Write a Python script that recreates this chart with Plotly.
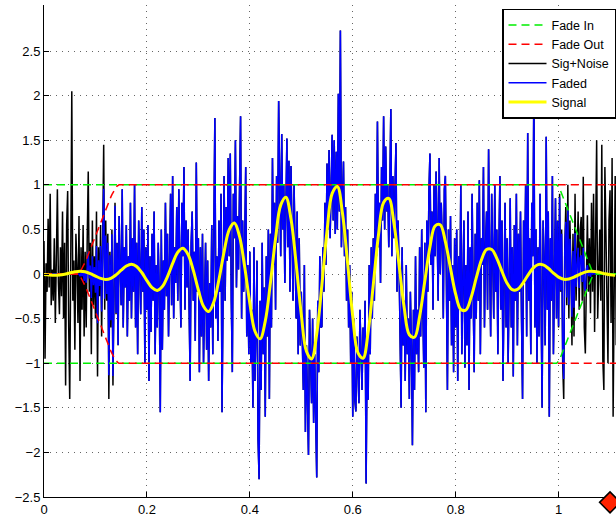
import numpy as np
import plotly.graph_objects as go

# ---- data -------------------------------------------------------------
dt = 0.002  # sample spacing of the noisy record (s)

# noisy record: chirp-like burst plus noise, one value per sample
sig_noise = [
    0.37, -0.95, 0.12, -0.2, 0.62, -0.15, 0.9, -0.35, 0.05, -0.3,
    0.4, -0.55, 0.18, 0.95, -0.1, -0.45, 0.3, -0.25, 0.7, -0.5,
    0.35, -1.25, 0.55, 0.93, -0.6, -1.4, 0.2, 2.05, -0.3, 0.15,
    -0.85, 0.45, 0.1, -0.55, 0.65, -1.2, 0.3, -0.4, 0.55, -0.7,
    0.25, -0.6, 0.4, 1.15, -0.2, 0.35, -0.9, 0.6, -0.35, 0.2,
    -0.5, 0.7, -1.15, 0.3, -0.25, 0.55, -0.7, 0.2, 1.45, -0.4,
    0.6, -0.3, 0.45, -1.4, 0.25, -0.6, 0.5, -1.25, 0.15, 0.8,
    -0.45, 0.35, -0.8, 0.65, 0.1, -0.35, 0.95, -0.6, 0.3, -0.15,
    0.55, -0.7, 0.2, -0.3, 0.8, -0.5, 0.4, -0.2, 1.0, -0.6,
    0.35, -0.9, 0.6, 0.1, -0.45, 0.75, -0.2, 0.5, -1.0, 0.3,
    -0.4, 0.55, -1.2, 0.2, -0.65, 0.45, -0.3, 0.7, -0.9, 0.1,
    -0.6, 0.35, -0.2, -1.55, 0.5, -0.85, 0.15, -0.4, 0.8, -0.25,
    0.45, -0.7, 0.25, 0.9, -0.35, 1.1, -0.5, 0.3, -0.1, 0.75,
    -0.3, 0.95, 0.1, -0.6, 0.8, 0.2, 1.2, -0.4, 0.6, -0.15,
    0.5, -0.45, -1.2, 0.35, 0.7, -0.3, 0.25, -0.75, 1.25, -0.2,
    0.4, -1.1, 0.3, -0.7, 0.45, -1.0, -0.2, 0.35, -0.85, 0.15,
    -1.2, -0.1, -0.6, 0.55, -0.9, 0.3, 1.75, -0.5, 0.2, -0.75,
    0.6, -0.2, 0.9, -1.55, 0.4, 1.1, -0.3, 0.75, 0.15, 1.3,
    0.2, 1.35, -0.3, -1.1, 0.9, 0.4, 1.5, -0.15, 0.65, 0.05,
    0.95, 1.77, -0.5, 0.6, -0.2, 0.3, 1.2, -0.7, 0.1, -0.9,
    0.25, -1.0, -0.4, -1.5, 0.3, -1.2, -0.6, 0.15, -1.85, -2.3,
    -0.3, -1.3, 0.35, -0.9, -0.15, -1.6, 0.2, -0.7, 0.5, -1.4,
    0.45, -0.6, 1.3, 0.1, 0.8, -0.4, 1.1, 0.35, 1.94, 0.6,
    0.2, 1.57, 0.5, 1.0, -0.1, 0.7, 1.52, 0.3, 1.27, -0.2,
    1.21, 0.45, -0.3, 1.0, 0.2, -0.5, 0.7, -0.9, 0.4, -0.8,
    -0.2, -0.66, -1.3, 0.1, -1.77, -0.8, -1.5, -2.03, -0.4, -1.2,
    -1.45, -0.5, -1.67, -0.9, -1.52, -2.28, -0.3, -1.1, 0.2, -0.6,
    -0.59, 0.3, -0.2, 0.8, 0.1, 1.24, 0.5, 1.39, 0.4, 0.95,
    1.56, 0.6, 1.5, 0.45, 1.37, 0.5, 2.02, 0.7, 2.73, 0.3,
    0.9, 1.26, 0.2, 0.75, -0.3, 0.5, -0.6, 0.1, -1.0, -0.2,
    -1.6, -0.5, -1.41, -1.54, -0.7, -1.2, -1.45, -0.4, -1.1, -1.3,
    -0.6, -1.0, -0.3, -2.35, -0.8, -1.41, 0.1, -0.9, 0.3, -0.5,
    0.4, -0.3, 0.9, 0.2, 1.71, 0.3, 0.8, -0.1, 1.2, 0.6,
    1.77, 0.5, 1.43, 0.7, 1.0, 0.3, 0.9, 1.85, 0.2, 1.1,
    0.4, 0.9, 1.47, -0.2, 0.6, 0.1, -0.6, -1.5, 0.3, -0.8,
    -0.3, -1.2, 0.1, -0.9, -0.5, -1.4, -0.2, -0.8, -1.92, -0.4,
    -1.3, 0.2, -0.9, -0.4, -1.1, 0.3, -0.7, 0.5, -0.3, -1.05,
    0.35, -1.55, 0.6, -0.2, 0.9, 1.35, 0.1, 0.7, -0.4, 1.0,
    0.2, 1.15, 0.5, -0.3, 1.3, 0.0, 0.8, 0.35, -0.5, 0.95,
    1.1, 0.2, -1.3, 0.5, -0.3, 0.65, -0.8, 0.1, -1.1, 0.4,
    -0.6, 0.5, -1.2, 0.2, -0.4, 1.0, -0.9, -0.1, 0.6, -1.05,
    0.1, -0.8, 0.7, -1.3, 0.3, -0.5, 0.9, -0.2, -1.1, 0.45,
    -0.5, 0.8, -0.3, 1.05, -0.9, 0.4, 0.1, 1.2, -0.6, 0.3,
    0.7, -0.4, 1.4, 0.2, -0.7, 0.9, 0.35, -0.5, 1.0, -0.2,
    0.5, -0.9, 0.3, 1.1, -0.4, 0.6, -1.2, 0.15, 0.8, -0.6,
    0.4, -1.0, 0.2, 0.85, -0.6, 0.3, -1.15, 0.55, -0.3, 0.9,
    -0.8, 0.45, -0.2, 0.7, -0.5, -1.4, 0.6, -0.1, 1.0, -0.7,
    1.58, -0.3, 0.4, -0.9, 0.8, 0.2, 2.1, -0.6, 0.5, -1.0,
    0.3, -0.7, 0.9, -0.2, -1.5, 0.6, 0.1, -0.8, 1.54, -0.4,
    0.7, -1.6, 0.4, -0.3, 1.1, -0.9, 0.2, 0.85, -0.5, 0.6,
    -0.6, 0.9, -0.2, 0.5, -1.0, -1.4, 0.3, 0.75, -0.35, 1.0,
    -0.5, 0.6, 0.1, -0.8, 0.45, -0.7, 0.9, -0.3, 0.2, 0.7,
    -0.4, 0.5, 0.64, -0.3, 1.09, -0.6, -0.89, 0.3, 0.66, -0.2,
    0.4, -0.44, 0.8, -0.2, 0.9, -0.65, 0.3, 1.5, -0.5, 0.2,
    0.5, -0.3, 1.45, -0.96, -1.3, 1.2, 0.4, -0.2, -1.0, 0.6,
    0.94, -0.55, 1.3, -1.6, 0.4, 1.1, -0.8, 0.2,
]

# clean burst, sampled every 10 ms
signal_dt = 0.01
signal = [
    -0.006, -0.012, -0.015, -0.012, -0.003, 0.012, 0.025, 0.032, 0.025, 0.005,
    -0.023, -0.049, -0.061, -0.048, -0.010, 0.043, 0.090, 0.110, 0.085, 0.017,
    -0.074, -0.153, -0.184, -0.141, -0.028, 0.119, 0.244, 0.288, 0.218, 0.043,
    -0.179, -0.361, -0.420, -0.313, -0.061, 0.250, 0.498, 0.572, 0.421, 0.081,
    -0.327, -0.642, -0.727, -0.528, -0.100, 0.398, 0.772, 0.861, 0.617, 0.115,
    -0.453, -0.865, -0.952, -0.672, -0.124, 0.480, 0.904, 0.982, 0.683, 0.124,
    -0.475, -0.882, -0.944, -0.648, -0.116, 0.438, 0.802, 0.847, 0.573, 0.101,
    -0.377, -0.681, -0.709, -0.473, -0.082, 0.302, 0.539, 0.553, 0.364, 0.063,
    -0.226, -0.398, -0.403, -0.262, -0.044, 0.158, 0.274, 0.274, 0.175, 0.029,
    -0.103, -0.176, -0.173, -0.109, -0.018, 0.063, 0.105, 0.102, 0.064, 0.010,
    -0.035, -0.059, -0.056, -0.035, -0.006, 0.019, 0.031, 0.029, 0.018, 0.003,
    -0.009, -0.015,
]

# fade windows: start time and the ramp values that follow it
fade_out_start = 0.068
fade_out_ramp = [
    0.0, 0.02, 0.04, 0.06, 0.085, 0.11, 0.135, 0.16, 0.19, 0.215,
    0.245, 0.27, 0.3, 0.33, 0.36, 0.39, 0.42, 0.45, 0.48, 0.51,
    0.54, 0.57, 0.6, 0.63, 0.66, 0.69, 0.72, 0.75, 0.78, 0.81,
    0.84, 0.865, 0.89, 0.915, 0.935, 0.955, 0.97, 0.985, 0.995, 1.0,
]
fade_in_start = 0.996
fade_in_ramp = [
    1.0, 0.99, 0.975, 0.955, 0.93, 0.9, 0.87, 0.84, 0.81, 0.78,
    0.75, 0.72, 0.69, 0.66, 0.63, 0.6, 0.57, 0.54, 0.51, 0.48,
    0.45, 0.42, 0.39, 0.36, 0.33, 0.3, 0.27, 0.24, 0.21, 0.18,
    0.15, 0.12, 0.095, 0.07, 0.05, 0.03, 0.015, 0.0,
]

# diamond marker sitting on the lower edge
marker_t = 1.1
marker_v = -2.56

x_ticks = [0, 0.2, 0.4, 0.6, 0.8, 1.0]
y_ticks = [-2.5, -2, -1.5, -1, -0.5, 0, 0.5, 1, 1.5, 2, 2.5]

x_range = [0, 1.1116]
y_range = [-2.5, 3.016]

# ---- derived series ---------------------------------------------------
sn = np.array(sig_noise)
n = len(sn)
t = np.arange(n) * dt
ts = np.arange(len(signal)) * signal_dt

i_out = int(round(fade_out_start / dt))
fade_out = np.concatenate([np.zeros(i_out), fade_out_ramp,
                           np.ones(n - i_out - len(fade_out_ramp))])
i_in = int(round(fade_in_start / dt))
fade_in = np.concatenate([np.ones(i_in), fade_in_ramp,
                          np.zeros(n - i_in - len(fade_in_ramp))])
faded = sn * fade_in * fade_out


def envelope(w):
    xs = list(t) + [None] + list(t)
    ys = list(w) + [None] + list(-w)
    return xs, ys


# ---- figure -----------------------------------------------------------
fig = go.Figure()

fig.add_trace(go.Scatter(x=t, y=sn, mode="lines", name="Sig+Noise",
                         line=dict(color="black", width=1.5), legendrank=3))
fig.add_trace(go.Scatter(x=t, y=faded, mode="lines", name="Faded",
                         line=dict(color="#0000ff", width=1.5), legendrank=4))

ex, ey = envelope(fade_in)
fig.add_trace(go.Scatter(x=ex, y=ey, mode="lines", name="Fade In",
                         line=dict(color="#00ee00", width=1.5, dash="8px,5px"),
                         legendrank=1))
ex, ey = envelope(fade_out)
fig.add_trace(go.Scatter(x=ex, y=ey, mode="lines", name="Fade Out",
                         line=dict(color="#ff0000", width=1.5, dash="8px,5px"),
                         legendrank=2))

fig.add_trace(go.Scatter(x=ts, y=signal, mode="lines", name="Signal",
                         line=dict(color="#ffff00", width=3, shape="spline"),
                         legendrank=5))

# diamond drawn as a pixel-sized shape anchored at the marker position,
# so it can hang below the x axis without being clipped
marker_paper_y = (marker_v - y_range[0]) / (y_range[1] - y_range[0])
half = 10.5
fig.add_shape(
    type="path", xref="x", yref="paper",
    xsizemode="pixel", ysizemode="pixel",
    xanchor=marker_t, yanchor=marker_paper_y,
    path=f"M{-half},0 L0,{half} L{half},0 L0,{-half} Z",
    fillcolor="#ff2200", line=dict(color="black", width=1.5), layer="above",
)

font_family = "Liberation Sans, Arial, Helvetica, sans-serif"

fig.update_layout(
    width=616, height=517,
    margin=dict(l=44, r=0, t=5, b=20),
    paper_bgcolor="white", plot_bgcolor="white",
    font=dict(family=font_family, size=13, color="black"),
    showlegend=True,
    legend=dict(x=1, xanchor="right", y=0.992, yanchor="top",
                bgcolor="white", bordercolor="black", borderwidth=1.5,
                font=dict(family=font_family, size=12.5, color="black"),
                itemwidth=38, traceorder="normal"),
)

axis_common = dict(
    ticks="inside", ticklen=5, tickcolor="black", tickwidth=1,
    showline=True, linecolor="black", linewidth=1,
    showgrid=True, gridcolor="#666666", gridwidth=1, griddash="1px,5px",
    zeroline=False, automargin=False,
    tickfont=dict(family=font_family, size=13, color="black"),
)
fig.update_xaxes(range=x_range, tickmode="array", tickvals=x_ticks, **axis_common)
fig.update_yaxes(range=y_range, tickmode="array", tickvals=y_ticks, **axis_common)

fig.write_html("out.html")
